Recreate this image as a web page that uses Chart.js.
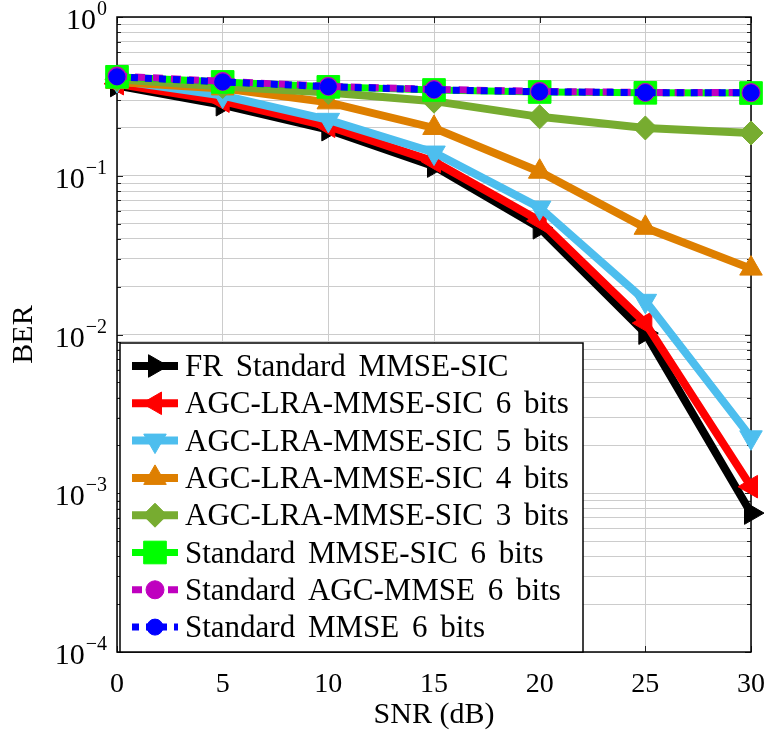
<!DOCTYPE html>
<html>
<head>
<meta charset="utf-8">
<script src="https://cdn.jsdelivr.net/npm/chart.js@4.4.1/dist/chart.umd.min.js"></script>
<style>
  html, body { margin: 0; padding: 0; background: #fff; }
  #wrap { width: 768px; height: 733px; }
</style>
</head>
<body>
<div id="wrap"><canvas id="berChart"></canvas></div>
<script>
// SNR in dB (x axis)
const snr = [0, 5, 10, 15, 20, 25, 30];

// BER curves
const frStandardSic = [0.37, 0.28, 0.195, 0.115, 0.047, 0.0102, 0.00075];
const agcLra6 = [0.38, 0.295, 0.205, 0.123, 0.052, 0.0118, 0.0011];
const agcLra5 = [0.40, 0.32, 0.225, 0.14, 0.063, 0.0163, 0.00225];
const agcLra4 = [0.39, 0.355, 0.29, 0.2, 0.106, 0.047, 0.026];
const agcLra3 = [0.405, 0.365, 0.335, 0.295, 0.235, 0.2, 0.186];
const standardSic6 = [0.42, 0.39, 0.363, 0.347, 0.337, 0.333, 0.332];
const standardAgc6 = [0.425, 0.393, 0.366, 0.35, 0.34, 0.335, 0.334];
const standardMmse6 = [0.42, 0.39, 0.364, 0.348, 0.338, 0.334, 0.333];

const seriesLabels = [
  'FR Standard MMSE-SIC',
  'AGC-LRA-MMSE-SIC 6 bits',
  'AGC-LRA-MMSE-SIC 5 bits',
  'AGC-LRA-MMSE-SIC 4 bits',
  'AGC-LRA-MMSE-SIC 3 bits',
  'Standard MMSE-SIC 6 bits',
  'Standard AGC-MMSE 6 bits',
  'Standard MMSE 6 bits'
];

const xTickValues = [0, 5, 10, 15, 20, 25, 30];
const yDecades = [0, -1, -2, -3, -4];

const serif = "'Liberation Serif', 'DejaVu Serif', serif";

const series = [
  { data: frStandardSic, color: '#000000', style: 'triangle', rot: 90, r: 13, w: 8, dash: [] },
  { data: agcLra6, color: '#ff0000', style: 'triangle', rot: -90, r: 13, w: 8, dash: [] },
  { data: agcLra5, color: '#4dbeee', style: 'triangle', rot: 180, r: 13, w: 8, dash: [] },
  { data: agcLra4, color: '#de7f00', style: 'triangle', rot: 0, r: 13, w: 8, dash: [] },
  { data: agcLra3, color: '#77ac30', style: 'rectRot', rot: 0, r: 12, w: 8, dash: [] },
  { data: standardSic6, color: '#00ff00', style: 'rect', rot: 0, r: 16, w: 7, dash: [] },
  { data: standardAgc6, color: '#bf00bf', style: 'circle', rot: 0, r: 9, w: 7, dash: [10, 8] },
  { data: standardMmse6, color: '#0000ff', style: 'circle', rot: 0, r: 8, w: 7, dash: [7, 7] }
];

const datasets = series.map((s, i) => ({
  label: seriesLabels[i],
  data: snr.map((x, j) => ({ x: x, y: s.data[j] })),
  borderColor: s.color,
  backgroundColor: s.color,
  borderWidth: s.w,
  borderDash: s.dash,
  pointStyle: s.style,
  pointRotation: s.rot,
  pointRadius: s.r,
  pointBorderWidth: 1,
  pointBorderColor: s.color,
  pointBackgroundColor: s.color,
  tension: 0,
  clip: false,
  order: series.length - i
}));

// box, inner ticks, y labels with exponents and the in-plot legend
const decorations = {
  id: 'decorations',
  beforeDatasetsDraw(chart) {
    const { ctx, chartArea: a, scales } = chart;
    ctx.save();
    ctx.strokeStyle = '#222';
    ctx.lineWidth = 1;
    scales.y.ticks.forEach(t => {
      const y = Math.round(scales.y.getPixelForValue(t.value)) + 0.5;
      const len = Number.isInteger(Math.log10(t.value)) ? 6 : 4;
      ctx.beginPath();
      ctx.moveTo(a.left, y); ctx.lineTo(a.left + len, y);
      ctx.moveTo(a.right, y); ctx.lineTo(a.right - len, y);
      ctx.stroke();
    });
    xTickValues.forEach(v => {
      const x = Math.round(scales.x.getPixelForValue(v)) + 0.5;
      ctx.beginPath();
      ctx.moveTo(x, a.top); ctx.lineTo(x, a.top + 6);
      ctx.moveTo(x, a.bottom); ctx.lineTo(x, a.bottom - 6);
      ctx.stroke();
    });
    ctx.lineWidth = 1.5;
    ctx.strokeStyle = '#000';
    ctx.strokeRect(a.left, a.top, a.right - a.left, a.bottom - a.top);
    ctx.restore();
  },
  afterDatasetsDraw(chart) {
    const { ctx, chartArea: a } = chart;
    ctx.save();
    // legend
    const left = a.left + 3, top = 343, right = 583, bottom = a.bottom;
    ctx.fillStyle = '#fff';
    ctx.fillRect(left, top, right - left, bottom - top);
    ctx.strokeStyle = '#000';
    ctx.lineWidth = 1.5;
    ctx.strokeRect(left, top, right - left, bottom - top);
    ctx.font = '31px ' + serif;
    ctx.wordSpacing = '5px';
    ctx.textBaseline = 'middle';
    chart.data.datasets.forEach((ds, i) => {
      const y = top + 23 + i * 37.3;
      const x0 = left + 12, x1 = left + 58, xm = (x0 + x1) / 2;
      ctx.strokeStyle = ds.borderColor;
      ctx.lineWidth = ds.borderWidth;
      ctx.setLineDash(ds.borderDash);
      ctx.beginPath();
      ctx.moveTo(x0, y); ctx.lineTo(x1, y);
      ctx.stroke();
      ctx.setLineDash([]);
      ctx.fillStyle = ds.backgroundColor;
      ctx.lineWidth = 1;
      Chart.helpers.drawPoint(ctx, {
        pointStyle: ds.pointStyle,
        rotation: ds.pointRotation,
        radius: ds.pointRadius,
        borderWidth: 1
      }, xm, y);
      ctx.fillStyle = '#000';
      ctx.textAlign = 'left';
      ctx.fillText(ds.label, left + 65, y + 2);
    });
    ctx.restore();
  },
  afterDraw(chart) {
    const { ctx, scales } = chart;
    ctx.save();
    ctx.fillStyle = '#000';
    ctx.textBaseline = 'alphabetic';
    ctx.textAlign = 'right';
    const xr = scales.y.right - 10;
    yDecades.forEach(e => {
      const y = scales.y.getPixelForValue(Math.pow(10, e));
      const exp = e < 0 ? '\u2212' + Math.abs(e) : String(e);
      ctx.font = '20px ' + serif;
      const ew = ctx.measureText(exp).width;
      ctx.fillText(exp, xr, y - 2);
      ctx.font = '30px ' + serif;
      ctx.fillText('10', xr - ew - 1, y + 12);
    });
    ctx.restore();
  }
};

new Chart(document.getElementById('berChart'), {
  type: 'line',
  data: { datasets: datasets },
  options: {
    responsive: true,
    maintainAspectRatio: false,
    animation: false,
    layout: { padding: { top: 17, right: 16, left: 0, bottom: 0 } },
    plugins: {
      legend: { display: false },
      tooltip: { enabled: false }
    },
    scales: {
      x: {
        type: 'linear',
        min: 0,
        max: 30,
        afterBuildTicks: (scale) => {
          scale.ticks = xTickValues.map(v => ({ value: v }));
        },
        afterFit: (scale) => {
          scale.height = 81;
          scale.paddingLeft = 0;
          scale.paddingRight = 0;
        },
        grid: { color: '#cccccc', lineWidth: 1, drawTicks: false },
        border: { display: false },
        ticks: {
          color: '#000',
          font: { family: serif, size: 28 },
          padding: 16,
          maxRotation: 0
        },
        title: {
          display: true,
          text: 'SNR (dB)',
          color: '#000',
          font: { family: serif, size: 30 },
          padding: { top: 0, bottom: 0 }
        }
      },
      y: {
        type: 'logarithmic',
        min: 1e-4,
        max: 1,
        afterBuildTicks: (scale) => {
          const ticks = [];
          for (let e = -4; e < 0; e++) {
            for (let m = 1; m < 10; m++) ticks.push({ value: m * Math.pow(10, e) });
          }
          ticks.push({ value: 1 });
          scale.ticks = ticks;
        },
        afterFit: (scale) => {
          scale.width = 117;
          scale.paddingTop = 0;
          scale.paddingBottom = 0;
        },
        grid: { color: '#cccccc', lineWidth: 1, drawTicks: false },
        border: { display: false },
        ticks: { callback: () => '' },
        title: {
          display: true,
          text: 'BER',
          color: '#000',
          font: { family: serif, size: 30 },
          padding: { top: 6, bottom: 0 }
        }
      }
    }
  },
  plugins: [decorations]
});
</script>
</body>
</html>
